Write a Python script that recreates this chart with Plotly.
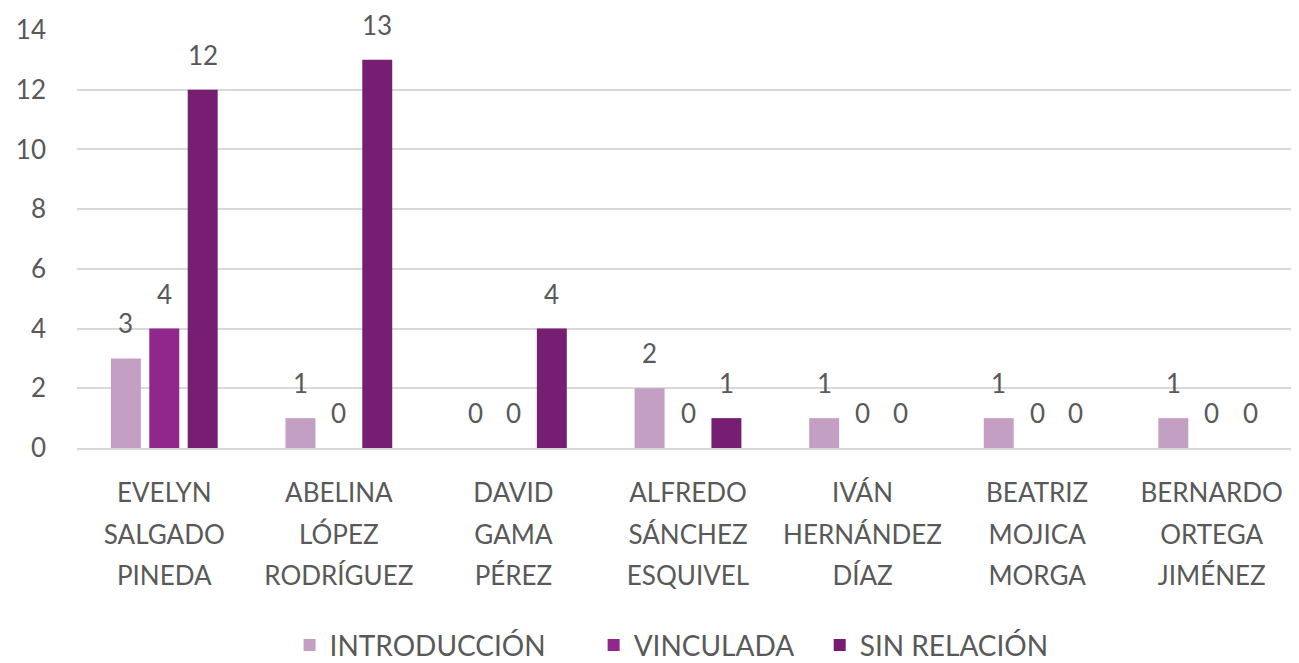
import plotly.graph_objects as go

categories = ["EVELYN SALGADO PINEDA", "ABELINA LÓPEZ RODRÍGUEZ", "DAVID GAMA PÉREZ",
              "ALFREDO SÁNCHEZ ESQUIVEL", "IVÁN HERNÁNDEZ DÍAZ", "BEATRIZ MOJICA MORGA",
              "BERNARDO ORTEGA JIMÉNEZ"]
series_names = ["INTRODUCCIÓN", "VINCULADA", "SIN RELACIÓN"]
introduccion = [3, 1, 0, 2, 1, 1, 1]
vinculada = [4, 0, 0, 0, 0, 0, 0]
sin_relacion = [12, 13, 4, 1, 0, 0, 0]
y_ticks = [0, 2, 4, 6, 8, 10, 12, 14]

colors = ["#C39FC3", "#91268D", "#761E72"]
legend_pad = [6, 3, 0]  # trailing non-breaking spaces for legend spacing
FONT = "Lato, 'Open Sans', sans-serif"
GREY = "#595959"

# page body has an 8px margin, so the figure is drawn 8px smaller
W, H = 1291, 655
ML, MR, MT = 69, 0, 22
MB = H - MT - 418
BARGAP, GROUPGAP = 0.34, 0.22

ticktext = ["<br>".join(f"<span style='font-size:26px'>{w}</span>" for w in c.split(" "))
            for c in categories]

fig = go.Figure()
all_series = [introduccion, vinculada, sin_relacion]
for name, vals, col, pad in zip(series_names, all_series, colors, legend_pad):
    fig.add_trace(go.Bar(x=categories, y=vals, name=name + "\u00a0" * pad, marker_color=col,
                         marker_line_width=0))

plot_w = W - ML - MR
slot = plot_w / len(categories) * (1 - BARGAP) / len(all_series)
annotations = []
for i, vals in enumerate(all_series):
    for c, v in zip(categories, vals):
        annotations.append(dict(x=c, y=v, xref="x", yref="y", text=str(v), showarrow=False,
                                xshift=(i - 1) * slot, yshift=35, yanchor="middle",
                                font=dict(family=FONT, size=26, color=GREY)))

fig.update_layout(
    width=W, height=H,
    margin=dict(l=ML, r=MR, t=MT, b=MB, autoexpand=False),
    paper_bgcolor="white", plot_bgcolor="white",
    barmode="group", bargap=BARGAP, bargroupgap=GROUPGAP,
    font=dict(family=FONT, color=GREY),
    annotations=annotations,
    showlegend=True,
    legend=dict(orientation="h", xref="container", yref="container",
                x=0.514, y=0.027, xanchor="center", yanchor="middle",
                font=dict(family=FONT, size=28, color=GREY), itemwidth=30),
    xaxis=dict(tickvals=categories, ticktext=ticktext, showline=True, linecolor="#D9D9D9",
               linewidth=1.5, ticks="", tickfont=dict(family=FONT, size=32, color=GREY),
               ticklabelstandoff=14, showgrid=False, automargin=False),
    yaxis=dict(range=[0, 14], tickvals=y_ticks, showgrid=True, gridcolor="#D9D9D9",
               gridwidth=1.5, zeroline=False, showline=False, ticks="",
               tickfont=dict(family=FONT, size=26, color=GREY), ticklabelstandoff=30,
               automargin=False),
)

fig.write_html("out.html")
